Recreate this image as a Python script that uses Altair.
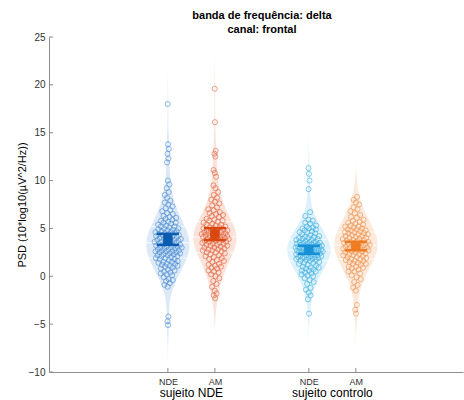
import altair as alt
import pandas as pd
import numpy as np

categories = ["NDE", "AM", "NDE", "AM"]
group_labels = ["sujeito NDE", "sujeito controlo"]
y_ticks = [-10, -5, 0, 5, 10, 15, 20, 25]

nde_nde = [18.0, 13.8, 13.3, 12.8, 12.3, 11.9, 10.0, 9.6, 9.2, 8.8, 8.5,
           8.2, 7.9, 7.7, 7.5, 7.3, 7.1, 6.9, 6.8, 6.6, 6.5, 6.3, 6.2, 6.0, 5.9, 5.8, 5.7, 5.6, 5.5, 5.4, 5.3,
           5.2, 5.1, 5.0, 5.0, 4.9, 4.8, 4.7, 4.7, 4.6, 4.5, 4.5, 4.4, 4.3, 4.3, 4.2, 4.1, 4.1, 4.0, 3.9, 3.9,
           3.8, 3.8, 3.7, 3.6, 3.6, 3.5, 3.5, 3.4, 3.3, 3.3, 3.2, 3.2, 3.1, 3.0, 3.0, 2.9, 2.9, 2.8, 2.7, 2.7,
           2.6, 2.6, 2.5, 2.4, 2.4, 2.3, 2.2, 2.2, 2.1, 2.0, 1.9, 1.9, 1.8, 1.7, 1.6, 1.5, 1.4, 1.3, 1.2, 1.1,
           1.0, 0.9, 0.8, 0.6, 0.5, 0.4, 0.2, 0.1, -0.1, -0.3, -0.5, -0.7, -0.9, -1.1,
           0.3, 0.7, 1.1, 1.5, 1.8, 2.1, 2.3, 2.5, 2.8, 3.0, 3.1, 3.4, 3.6, 3.7, 3.9, 4.2, 4.4, 4.6, 4.9, 5.2,
           5.6, 6.1, -0.4, 1.3, 2.6,
           -4.2, -4.7, -5.1]

am_nde = [19.6, 16.1, 13.1, 12.8, 12.5, 11.1, 10.8, 10.4, 9.5, 9.2, 8.8,
          8.5, 8.2, 8.0, 7.8, 7.6, 7.4, 7.2, 7.0, 6.9, 6.7, 6.6, 6.4, 6.3, 6.2, 6.0, 5.9, 5.8, 5.7, 5.6, 5.5,
          5.4, 5.3, 5.2, 5.1, 5.0, 5.0, 4.9, 4.8, 4.8, 4.7, 4.6, 4.6, 4.5, 4.5, 4.4, 4.4, 4.3, 4.2, 4.2, 4.1,
          4.0, 4.0, 3.9, 3.8, 3.8, 3.7, 3.6, 3.6, 3.5, 3.4, 3.3, 3.3, 3.2, 3.1, 3.0, 2.9, 2.8, 2.7, 2.6, 2.5,
          2.4, 2.3, 2.2, 2.0, 1.9, 1.8, 1.6, 1.5, 1.3, 1.2, 1.0, 0.8, 0.6, 0.4, 0.2, 0.0, -0.2, -0.5, -0.8,
          -1.1, -1.5,
          0.5, 1.1, 1.7, 2.1, 2.5, 2.8, 3.0, 3.2, 3.4, 3.5, 3.7, 3.9, 4.1, 4.3, 4.4, 4.6, 4.8, 5.1, 5.4, 5.8,
          6.5, 0.9, 2.7, 3.9, 4.2,
          -1.8, -2.0, -2.3]

nde_ctrl = [11.3, 10.7, 10.0, 9.1,
            6.7, 0.2, 6.3, 0.6, 5.9, 5.8, 5.6, 5.5, 5.3, 5.2,
            5.1, 5.0, 4.9, 4.8, 4.7, 4.6, 4.5, 4.4, 4.3, 4.2,
            4.1, 4.0, 4.0, 3.9, 3.8, 3.8, 3.7, 3.6, 3.6, 3.5,
            3.5, 3.4, 3.4, 3.3, 3.3, 3.2, 3.2, 3.1, 3.1, 3.0,
            3.0, 3.0, 2.9, 2.9, 2.8, 2.8, 2.8, 2.7, 2.7, 2.6,
            2.6, 2.6, 2.5, 2.5, 2.4, 2.4, 2.3, 2.3, 2.2, 2.2,
            2.1, 2.1, 2.0, 2.0, 1.9, 1.9, 1.8, 1.8, 1.7, 1.6,
            1.6, 1.5, 1.4, 1.3, 1.2, 1.1, 1.0, 0.9, 0.8, 0.7,
            0.6, 0.5, 0.4, 0.3, 0.1, 0.0, -0.2, -0.4, -0.6, -0.8,
            2.9, 3.1, 2.4, 3.6, 1.9, 2.7, 3.3, 2.2, 4.1, 1.4, 3.9, 2.5, 0.9, 4.6, 2.8, 3.5, 1.7, 5.0, 2.0, 3.2,
            -1.2, -1.4, -1.7, -2.0, -2.4, -3.9]

am_ctrl = [8.3, 8.0, 7.7, 7.5, 7.2, 7.0, 6.8, 6.6, 6.4, 6.2,
           6.1, 5.9, 5.8, 5.6, 5.5, 5.4, 5.3, 5.2, 5.1, 5.0,
           4.9, 4.8, 4.7, 4.6, 4.5, 4.4, 4.3, 4.2, 4.1, 4.0,
           3.9, 3.8, 3.8, 3.7, 3.6, 3.5, 3.5, 3.4, 3.3, 3.2,
           3.2, 3.1, 3.0, 3.0, 2.9, 2.8, 2.7, 2.7, 2.6, 2.5,
           2.4, 2.3, 2.2, 2.1, 2.0, 1.9, 1.8, 1.7, 1.6, 1.5,
           1.4, 1.3, 1.2, 1.0, 0.9, 0.7, 0.5, 0.3, 0.1, -0.1,
           -0.3, -0.6, -0.9, -1.2, -1.5,
           1.0, 1.6, 2.0, 2.3, 2.6, 2.9, 3.1, 3.3, 3.6, 3.9, 4.2, 4.5, 4.8, 5.2, 5.7, 0.5, 1.8, 2.5, 3.0, 3.4,
           4.0, 4.4, 4.9, 2.2, 3.7, 1.3, 2.8, 3.5, 4.6, 0.8,
           -3.0, -3.5, -3.9]

series = [nde_nde, am_nde, nde_ctrl, am_ctrl]
positions = [1, 2, 4, 5]
group_pos = [1.5, 4.5]

fills = ["#dde9f7", "#fbe3da", "#dcf1fb", "#fdeadc"]
pcols = ["#4d8fd6", "#e4643f", "#3db0e3", "#f0944f"]
mcols = ["#0b5cb0", "#d9480f", "#168fd4", "#ef7b22"]

BW = 1.6
VW = 0.46
JW = 0.30
grid = np.linspace(-9, 24, 400)

pts, stats, quarts = [], [], []
for gi, (vals, pos) in enumerate(zip(series, positions)):
    v = np.sort(np.asarray(vals, dtype=float))
    dgrid = np.exp(-0.5 * ((grid[None, :] - v[:, None]) / BW) ** 2).sum(axis=0)
    dpts = np.exp(-0.5 * ((v[None, :] - v[:, None]) / BW) ** 2).sum(axis=0)
    dn = dpts / dgrid.max()
    for i, val in enumerate(v):
        u = (((i + 1) * 0.6180339887) % 1.0) * 2 - 1
        pts.append(dict(gid=f"g{gi}", pos=pos, value=val, xj=pos + JW * dn[i] * u,
                        fill=fills[gi], pcol=pcols[gi]))
    m = v.mean()
    ci = 1.96 * v.std(ddof=1) / np.sqrt(len(v))
    stats.append(dict(pos=pos, mean=m, lo=m - ci, hi=m + ci, mcol=mcols[gi]))
    for q in np.percentile(v, [25, 50, 75]):
        quarts.append(dict(q=q, x1=pos - VW, x2=pos + VW))

df = pd.DataFrame(pts)
sdf = pd.DataFrame(stats)
qdf = pd.DataFrame(quarts)

FONT = "Liberation Sans"
YTITLE = "PSD (10*log10(µV^2/Hz))"
xs = alt.Scale(domain=[-1.53, 7.28], nice=False, zero=False)
ys = alt.Scale(domain=[-10, 25], nice=False, zero=False)
label_expr = "datum.value == 1 || datum.value == 4 ? '" + categories[0] + "' : '" + categories[1] + "'"
xaxis = alt.Axis(values=positions, labelExpr=label_expr, ticks=False, labelPadding=5,
                 labelFontSize=9, labelColor="#333333", domainColor="#8c8c8c", grid=False, title=None)
yaxis = alt.Axis(values=y_ticks, ticks=False, labelPadding=4, labelFontSize=10, labelColor="#333333",
                 domainColor="#8c8c8c", grid=False, title=YTITLE,
                 titleFontSize=11, titleFontWeight="normal", titleColor="black", titlePadding=1)


def X(f):
    return alt.X(f, type="quantitative", scale=xs, axis=xaxis, title=None)


def Y(f):
    return alt.Y(f, type="quantitative", scale=ys, axis=yaxis, title=YTITLE)


violin = alt.Chart(df).transform_density(
    "value", as_=["value", "density"], groupby=["gid", "pos", "fill"],
    extent=[-9, 24], bandwidth=BW, steps=300
).transform_joinaggregate(
    maxd="max(density)", groupby=["gid"]
).transform_calculate(
    vx1=f"datum.pos - {VW} * datum.density / datum.maxd",
    vx2=f"datum.pos + {VW} * datum.density / datum.maxd",
).mark_area(orient="horizontal", opacity=1).encode(
    y=Y("value"), x=X("vx1"), x2="vx2:Q", color=alt.Color("fill:N", scale=None), detail="gid:N"
)

qlines = alt.Chart(qdf).mark_rule(color="white", strokeWidth=1, opacity=0.8).encode(
    y=Y("q"), x=X("x1"), x2="x2:Q"
)

points = alt.Chart(df).mark_point(filled=False, size=26, strokeWidth=0.8, opacity=0.8).encode(
    x=X("xj"), y=Y("value"), color=alt.Color("pcol:N", scale=None)
)

ebar = alt.Chart(sdf).mark_rule(strokeWidth=3).encode(
    x=X("pos"), y=Y("lo"), y2="hi:Q", color=alt.Color("mcol:N", scale=None)
)
cap_lo = alt.Chart(sdf).mark_tick(orient="horizontal", size=22, thickness=2.5, opacity=1).encode(
    x=X("pos"), y=Y("lo"), color=alt.Color("mcol:N", scale=None)
)
cap_hi = alt.Chart(sdf).mark_tick(orient="horizontal", size=22, thickness=2.5, opacity=1).encode(
    x=X("pos"), y=Y("hi"), color=alt.Color("mcol:N", scale=None)
)
meanpt = alt.Chart(sdf).mark_square(size=90, filled=True, opacity=1).encode(
    x=X("pos"), y=Y("mean"), color=alt.Color("mcol:N", scale=None)
)

ytk = alt.Chart(pd.DataFrame({"v": y_ticks})).mark_rule(color="#8c8c8c").encode(
    y=Y("v"), x=alt.value(0), x2=alt.value(4)
)
xtk = alt.Chart(pd.DataFrame({"p": positions})).mark_rule(color="#8c8c8c").encode(
    x=X("p"), y=alt.value(335), y2=alt.value(331)
)
glabels = alt.Chart(pd.DataFrame({"gx": group_pos, "t": group_labels})).mark_text(
    fontSize=12, baseline="middle", color="black", font=FONT
).encode(x=X("gx"), y=alt.value(356), text="t:N")

chart = alt.layer(violin, qlines, points, ebar, cap_lo, cap_hi, meanpt, ytk, xtk, glabels).properties(
    width=414, height=335,
    padding={"left": 49, "top": 37, "right": 1, "bottom": 28},
    autosize="none",
    title=alt.Title(["banda de frequência: delta", "canal: frontal"], fontSize=11, fontWeight="bold",
                    anchor="middle", offset=5, font=FONT, color="black", lineHeight=14, dx=6, dy=8),
).configure(font=FONT).configure_view(stroke=None)

chart.save("out.html", embed_options={"renderer": "svg", "actions": False})
